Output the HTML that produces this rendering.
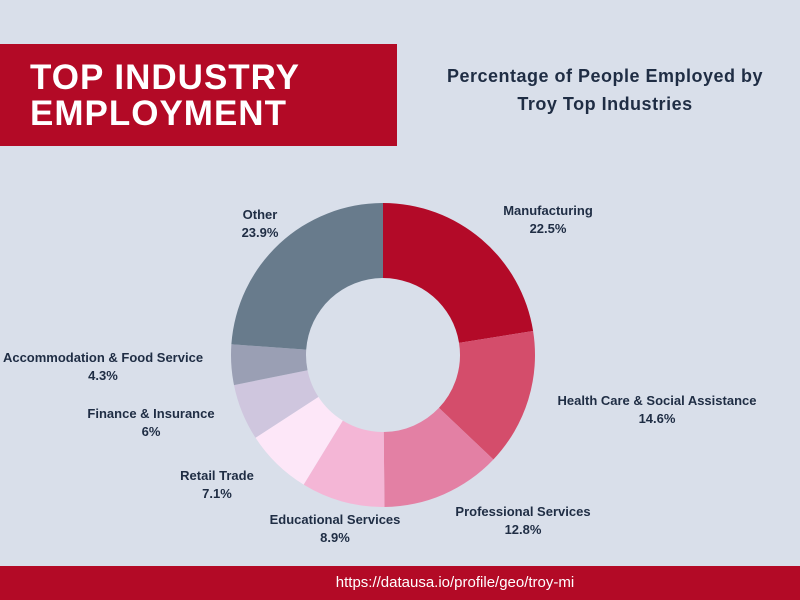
<!DOCTYPE html>
<html><head><meta charset="utf-8"><style>
body{margin:0;width:800px;height:600px;background:#d9dfea;position:relative;overflow:hidden;font-family:"Liberation Sans",sans-serif;}
.hdr{position:absolute;left:0;top:44px;width:397px;height:102px;background:#b30a26;}
.hdr div{position:absolute;left:30px;color:#fff;font-weight:bold;font-size:35px;letter-spacing:1px;line-height:36px;}
.sub{position:absolute;left:410px;width:390px;top:62px;text-align:center;font-weight:bold;font-size:18px;line-height:28px;color:#1f2d44;letter-spacing:0.5px;}
.foot{position:absolute;left:0;top:566px;width:800px;height:34px;background:#b30a26;color:#fff;font-size:15px;text-align:center;line-height:34px;}
.foot span{position:relative;left:55px}
text{font-family:"Liberation Sans",sans-serif;font-size:13px;font-weight:bold;fill:#1f2d44;}
</style></head><body>
<div class="hdr"><div style="top:60px;top:16px">TOP INDUSTRY</div><div style="top:52px">EMPLOYMENT</div></div>
<div class="sub">Percentage of People Employed by<br>Troy Top Industries</div>
<svg id="chart" width="800" height="600" style="position:absolute;left:0;top:0"></svg>
<div class="foot"><span>https://datausa.io/profile/geo/troy-mi</span></div>
<script>
const categories=["Manufacturing","Health Care & Social Assistance","Professional Services","Educational Services","Retail Trade","Finance & Insurance","Accommodation & Food Service","Other"];
const values=[22.5,14.6,12.8,8.9,7.1,6,4.3,23.9];
const valueLabels=["22.5%","14.6%","12.8%","8.9%","7.1%","6%","4.3%","23.9%"];
const colors=["#b30a28","#d44d6b","#e380a4","#f4b6d6","#fde7f8","#cfc6de","#9a9fb4","#687b8c"];
const labelPos=[[548,215],[657,405],[523,516],[335,524],[217,480],[151,418],[103,362],[260,219]];
const svg=document.getElementById('chart');
const NS='http://www.w3.org/2000/svg';
const cx=383,cy=355,R=152,r=77;
const total=values.reduce((a,b)=>a+b,0);
function pt(a,rad){return [cx+rad*Math.sin(a),cy-rad*Math.cos(a)];}
let acc=0;
values.forEach((v,i)=>{
  const a0=acc/total*2*Math.PI; acc+=v; const a1=acc/total*2*Math.PI;
  const large=(a1-a0)>Math.PI?1:0;
  const p0=pt(a0,R),p1=pt(a1,R),q1=pt(a1,r),q0=pt(a0,r);
  const p=document.createElementNS(NS,'path');
  p.setAttribute('d',`M${p0[0]},${p0[1]}A${R},${R} 0 ${large} 1 ${p1[0]},${p1[1]}L${q1[0]},${q1[1]}A${r},${r} 0 ${large} 0 ${q0[0]},${q0[1]}Z`);
  p.setAttribute('fill',colors[i]);
  
  
  svg.appendChild(p);
  const t=document.createElementNS(NS,'text');
  t.setAttribute('x',labelPos[i][0]);t.setAttribute('y',labelPos[i][1]);t.setAttribute('text-anchor','middle');
  
  
  const s1=document.createElementNS(NS,'tspan');s1.setAttribute('x',labelPos[i][0]);s1.textContent=categories[i];
  const s2=document.createElementNS(NS,'tspan');s2.setAttribute('x',labelPos[i][0]);s2.setAttribute('dy','18');s2.textContent=valueLabels[i];
  t.appendChild(s1);t.appendChild(s2);svg.appendChild(t);
});
</script>
</body></html>
